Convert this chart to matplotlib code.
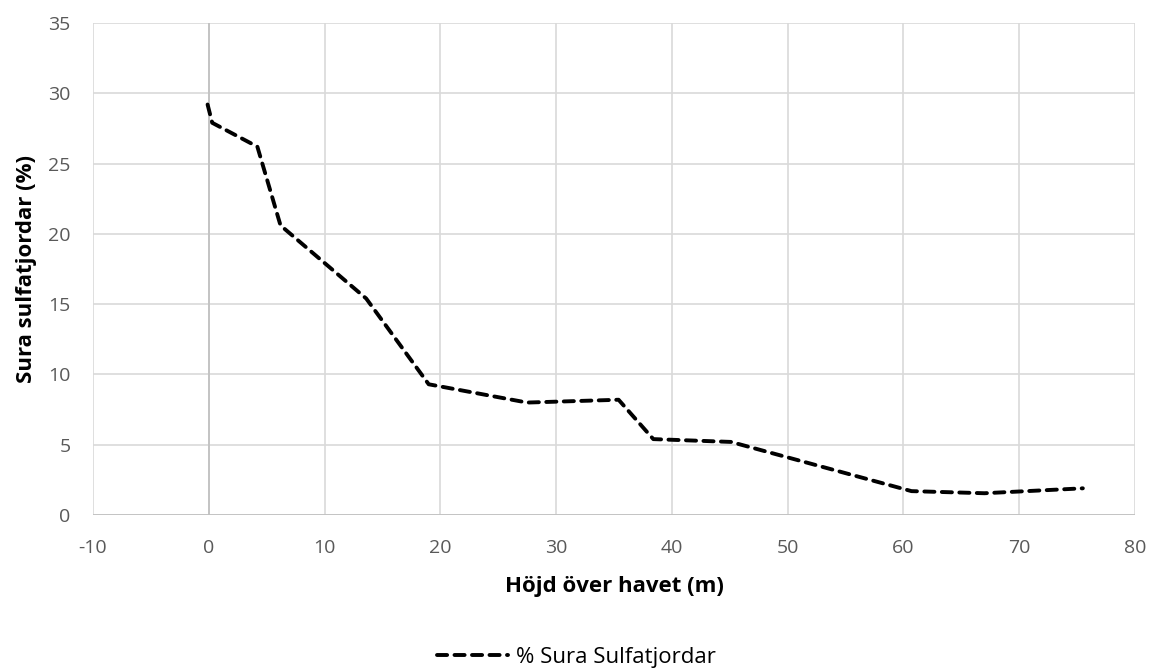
import matplotlib.pyplot as plt

# andel sura sulfatjordar mot höjd över havet
hojd = [-0.1, 0.3, 4.2, 6.2, 13.6, 19.0, 27.5, 35.4, 38.4, 45.1, 60.7, 67.0, 75.5]
andel = [29.2, 27.9, 26.2, 20.6, 15.4, 9.3, 8.0, 8.2, 5.4, 5.2, 1.7, 1.55, 1.9]

xticks = list(range(-10, 81, 10))
yticks = list(range(0, 36, 5))

plt.rcParams['font.family'] = ['Open Sans', 'DejaVu Sans']
plt.rcParams['axes.unicode_minus'] = False

fig = plt.figure(figsize=(11.52, 6.68), dpi=100)
ax = fig.add_axes([0.0807, 0.229, 0.9045, 0.7366])

ax.plot(hojd, andel, color='black', linewidth=2.8, linestyle=(0, (2.6, 1.9)),
        dash_capstyle='round', solid_joinstyle='round', label='% Sura Sulfatjordar')

ax.set_xlim(-10, 80)
ax.set_ylim(0, 35)
ax.set_xticks(xticks)
ax.set_yticks(yticks)
ax.grid(True, color='#d9d9d9', linewidth=1.2)
ax.set_axisbelow(True)
ax.axvline(0, color='#bfbfbf', linewidth=1.2, zorder=1)
ax.axhline(0, color='#bfbfbf', linewidth=1.2, zorder=1)
for s in ax.spines.values():
    s.set_visible(False)
ax.tick_params(length=0, labelsize=14, labelcolor='#595959')
ax.tick_params(axis='x', pad=17)
ax.tick_params(axis='y', pad=16)

ax.set_xlabel('Höjd över havet (m)', fontsize=16, fontweight='bold', labelpad=14)
ax.set_ylabel('Sura sulfatjordar (%)', fontsize=16, fontweight='bold', labelpad=8)

fig.legend(loc='lower center', bbox_to_anchor=(0.5, -0.03), frameon=False,
           fontsize=16, handlelength=3.2, handletextpad=0.35)

fig.savefig('out.png', dpi=100)
